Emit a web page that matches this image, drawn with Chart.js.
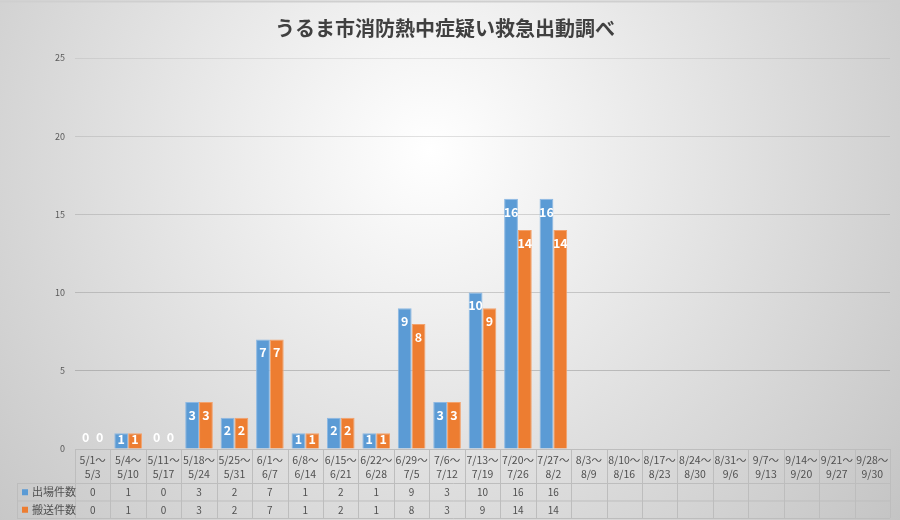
<!DOCTYPE html>
<html>
<head>
<meta charset="utf-8">
<style>
  html, body { margin: 0; padding: 0; background: #fff; }
  canvas { display: block; }
</style>
</head>
<body>
<canvas id="barChart" width="900" height="520"></canvas>
<script src="https://cdn.jsdelivr.net/npm/chart.js@4/dist/chart.umd.min.js"></script>
<script>
const FONT = '"Noto Sans CJK JP", "Noto Sans", sans-serif';

// 期間（週ごと）
const weeks = [
  ['5/1〜', '5/3'], ['5/4〜', '5/10'], ['5/11〜', '5/17'], ['5/18〜', '5/24'],
  ['5/25〜', '5/31'], ['6/1〜', '6/7'], ['6/8〜', '6/14'], ['6/15〜', '6/21'],
  ['6/22〜', '6/28'], ['6/29〜', '7/5'], ['7/6〜', '7/12'], ['7/13〜', '7/19'],
  ['7/20〜', '7/26'], ['7/27〜', '8/2'], ['8/3〜', '8/9'], ['8/10〜', '8/16'],
  ['8/17〜', '8/23'], ['8/24〜', '8/30'], ['8/31〜', '9/6'], ['9/7〜', '9/13'],
  ['9/14〜', '9/20'], ['9/21〜', '9/27'], ['9/28〜', '9/30']
];

// 出場件数 / 搬送件数（8/3以降は未集計）
const dispatches = [0, 1, 0, 3, 2, 7, 1, 2, 1, 9, 3, 10, 16, 16,
  null, null, null, null, null, null, null, null, null];
const transports = [0, 1, 0, 3, 2, 7, 1, 2, 1, 8, 3, 9, 14, 14,
  null, null, null, null, null, null, null, null, null];

const yTicks = [0, 5, 10, 15, 20, 25];

const seriesNames = ['出場件数', '搬送件数'];
const seriesColors = ['#5b9bd5', '#ed7d31'];
const seriesBorders = ['#8cb8e3', '#f3a26c'];

// 背景のグラデーション
const background = {
  id: 'background',
  beforeDraw(chart) {
    const c = chart.ctx;
    const g = c.createRadialGradient(430, 150, 0, 430, 150, 620);
    g.addColorStop(0, '#ffffff');
    g.addColorStop(1, '#c2c2c2');
    c.save();
    c.fillStyle = g;
    c.fillRect(0, 0, chart.width, chart.height);
    c.strokeStyle = '#cfcfcf';
    c.lineWidth = 2;
    c.beginPath();
    c.moveTo(0, 1.5);
    c.lineTo(chart.width, 1.5);
    c.stroke();
    c.restore();
  }
};

// 棒の中の数値
const barLabels = {
  id: 'barLabels',
  afterDatasetsDraw(chart) {
    const c = chart.ctx;
    const base = chart.scales.y.getPixelForValue(0);
    c.save();
    c.fillStyle = '#ffffff';
    c.font = 'bold 12.5px ' + FONT;
    c.textAlign = 'center';
    c.textBaseline = 'middle';
    chart.data.datasets.forEach((ds, di) => {
      chart.getDatasetMeta(di).data.forEach((bar, i) => {
        const v = ds.data[i];
        if (v === null || v === undefined) return;
        let y;
        if (v === 0) y = base - 12;
        else y = Math.min(bar.y + 13, (bar.y + base) / 2 - 2);
        c.fillText(String(v), bar.x, y);
      });
    });
    c.restore();
  }
};

// 下のデータテーブル
const dataTable = {
  id: 'dataTable',
  afterDraw(chart) {
    const c = chart.ctx;
    const x = chart.scales.x;
    const area = chart.chartArea;
    const n = weeks.length;
    const colW = (area.right - area.left) / n;
    const top = area.bottom;
    const headH = 34, rowH = 17.5;
    const r1 = top + headH, r2 = r1 + rowH, r3 = r2 + rowH;
    const leftX = 17;

    c.save();
    c.strokeStyle = '#bdbdbd';
    c.lineWidth = 1;
    c.beginPath();
    // 横線
    c.moveTo(area.left, top + 0.5); c.lineTo(area.right, top + 0.5);
    c.moveTo(leftX, r1 + 0.5); c.lineTo(area.right, r1 + 0.5);
    c.moveTo(leftX, r2 + 0.5); c.lineTo(area.right, r2 + 0.5);
    c.moveTo(leftX, r3 + 0.5); c.lineTo(area.right, r3 + 0.5);
    // 縦線
    c.moveTo(leftX + 0.5, r1); c.lineTo(leftX + 0.5, r3);
    for (let i = 0; i <= n; i++) {
      const px = Math.round(area.left + i * colW) + 0.5;
      c.moveTo(px, top); c.lineTo(px, r3);
    }
    c.stroke();

    c.fillStyle = '#505050';
    c.textAlign = 'center';
    c.textBaseline = 'middle';
    c.font = '10.5px ' + FONT;
    weeks.forEach((w, i) => {
      const cx = x.getPixelForValue(i);
      c.fillText(w[0], cx, top + 11);
      c.fillText(w[1], cx, top + 25);
    });

    [dispatches, transports].forEach((vals, si) => {
      const cy = r1 + rowH * si + rowH / 2 + 0.5;
      c.fillStyle = seriesColors[si];
      c.fillRect(leftX + 5, cy - 3, 6, 6);
      c.fillStyle = '#505050';
      c.textAlign = 'left';
      c.font = '11px ' + FONT;
      c.fillText(seriesNames[si], leftX + 15, cy);
      c.textAlign = 'center';
      c.font = '10px ' + FONT;
      vals.forEach((v, i) => {
        if (v === null) return;
        c.fillText(String(v), x.getPixelForValue(i), cy);
      });
    });
    c.restore();
  }
};

const ctx = document.getElementById('barChart').getContext('2d');

new Chart(ctx, {
  type: 'bar',
  data: {
    labels: weeks,
    datasets: seriesNames.map((name, si) => ({
      label: name,
      data: si === 0 ? dispatches : transports,
      backgroundColor: seriesColors[si],
      borderColor: seriesBorders[si],
      borderWidth: 1,
      categoryPercentage: 0.78,
      barPercentage: 1.0
    }))
  },
  options: {
    responsive: false,
    animation: false,
    layout: { padding: { left: 0, right: 10, top: 0, bottom: 71 } },
    plugins: {
      legend: { display: false },
      tooltip: { enabled: false },
      title: {
        display: true,
        text: 'うるま市消防熱中症疑い救急出動調べ',
        color: '#404040',
        font: { family: FONT, size: 20, weight: 'bold' },
        padding: { top: 16, bottom: 18 }
      }
    },
    scales: {
      x: {
        display: false
      },
      y: {
        min: 0,
        max: 25,
        afterFit(scale) { scale.width = 75; },
        afterBuildTicks(scale) { scale.ticks = yTicks.map(v => ({ value: v })); },
        border: { display: false },
        grid: {
          drawTicks: false,
          lineWidth: 1,
          color: (c) => c.tick && c.tick.value === 0 ? 'rgba(0,0,0,0)' :
            'rgba(120,120,120,' + (0.45 - (c.tick ? c.tick.value : 0) * 0.012) + ')'
        },
        ticks: {
          padding: 10,
          color: '#595959',
          font: { family: FONT, size: 9 }
        }
      }
    }
  },
  plugins: [background, barLabels, dataTable]
});
</script>
</body>
</html>
